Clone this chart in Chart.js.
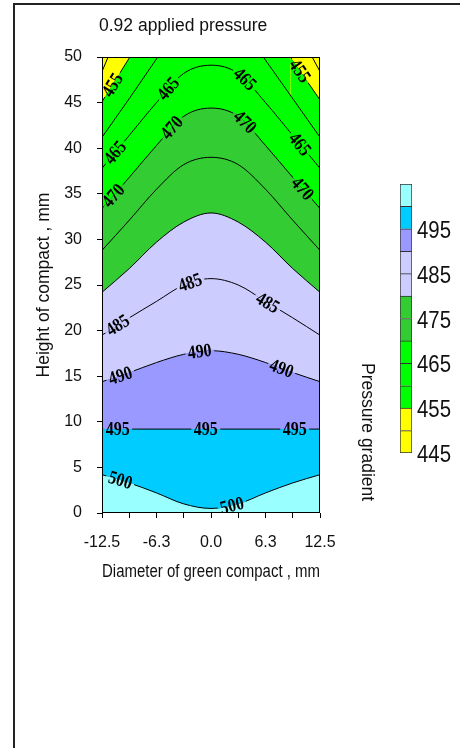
<!DOCTYPE html>
<html>
<head>
<meta charset="utf-8">
<script src="https://cdn.jsdelivr.net/npm/chart.js@4.4.1/dist/chart.umd.min.js"></script>
<style>
    body { margin: 0; width: 460px; height: 748px; overflow: hidden; position: relative; background: #fff;
           font-family: "Liberation Sans", Arial, sans-serif; color: #111; }
    #frame { position: absolute; left: 13px; top: 3px; width: 470px; height: 760px;
             border-left: 2px solid #222; border-top: 2px solid #222; }
    #main { position: absolute; left: 0; top: 0; }
    #bar { position: absolute; left: 390px; top: 170px; }
    #title { position: absolute; left: 99px; top: 15px; font-size: 17.5px; white-space: nowrap; }
    #barTitle { position: absolute; left: 357px; top: 363px; font-size: 17.5px; writing-mode: vertical-rl; white-space: nowrap; }
</style>
</head>
<body>
<div id="frame"></div>
<canvas id="main" width="460" height="748"></canvas>
<canvas id="bar" width="70" height="310"></canvas>
<div id="title">0.92 applied pressure</div>
<div id="barTitle">Pressure gradient</div>
<script>
// colour bands between successive pressure levels
const levels = [445, 450, 455, 460, 465, 470, 475, 480, 485, 490, 495, 500, 505];
const bandColors = ['#FFFF00', '#FFFF00', '#00FF00', '#00FF00', '#00FF00', '#33CC33',
                    '#33CC33', '#CCCCFF', '#CCCCFF', '#9999FF', '#00CCFF', '#99FFFF'];
const barTicks = [445, 455, 465, 475, 485, 495];

const xTicks = [-12.5, -9.375, -6.25, -3.125, 0, 3.125, 6.25, 9.375, 12.5];
const xTickLabels = ['-12.5', '', '-6.3', '', '0.0', '', '6.3', '', '12.5'];
const yTicks = [0, 5, 10, 15, 20, 25, 30, 35, 40, 45, 50];

// contour lines: [diameter mm, height mm]
const line450 = [[-12.5, 48.4], [-11.8, 50], [11.6, 50], [12.5, 48.4]];
const line455 = [[-12.5, 45.1], [-9.3, 50], [9.1, 50], [12.5, 45.3]];
const line460 = [[-12.5, 41.2], [-9.4, 45.4], [-6.1, 50], [6.0, 50], [9.4, 45.4], [12.5, 41.2]];
const line465 = [[-12.5, 37.8], [-9.375, 41.4], [-6.25, 45.0], [-3.125, 48.2], [0, 49.1], [3.125, 48.2], [6.25, 45.0], [9.375, 41.4], [12.5, 37.8]];
const line470 = [[-12.5, 33.4], [-9.375, 36.8], [-6.25, 40.3], [-3.125, 43.5], [0, 44.4], [3.125, 43.5], [6.25, 40.3], [9.375, 36.8], [12.5, 33.4]];
const line475 = [[-12.5, 28.8], [-9.375, 32.1], [-6.25, 35.5], [-3.125, 38.2], [0, 39.0], [3.125, 38.2], [6.25, 35.5], [9.375, 32.1], [12.5, 28.8]];
const line480 = [[-12.5, 24.2], [-9.375, 26.8], [-6.25, 29.7], [-3.125, 31.9], [0, 32.9], [3.125, 31.9], [6.25, 29.7], [9.375, 26.8], [12.5, 24.2]];
const line485 = [[-12.5, 19.5], [-9.375, 21.4], [-6.25, 23.2], [-3.125, 25.0], [0, 25.7], [3.125, 25.0], [6.25, 23.2], [9.375, 21.4], [12.5, 19.5]];
const line490 = [[-12.5, 14.4], [-9.375, 15.4], [-6.25, 16.5], [-3.125, 17.4], [0, 17.8], [3.125, 17.4], [6.25, 16.5], [9.375, 15.4], [12.5, 14.4]];
const line495 = [[-12.5, 9.2], [0, 9.2], [12.5, 9.2]];
const line500 = [[-12.5, 4.2], [-9.375, 3.3], [-6.25, 2.2], [-3.125, 1.0], [0, 0.5], [3.125, 1.0], [6.25, 2.2], [9.375, 3.3], [12.5, 4.2]];

// where each line carries its value label (diameter mm)
const labels455 = [-11.3, 10.2];
const labels465 = [-11.0, -4.9, 3.9, 10.2];
const labels470 = [-11.2, -4.5, 3.9, 10.5];
const labels485 = [-10.7, -2.4, 6.5];
const labels490 = [-10.4, -1.3, 8.1];
const labels495 = [-10.7, -0.6, 9.6];
const labels500 = [-10.4, 2.4];

const contours = [
    { level: 450, pts: line450, tags: [] },
    { level: 455, pts: line455, tags: labels455 },
    { level: 460, pts: line460, tags: [] },
    { level: 465, pts: line465, tags: labels465 },
    { level: 470, pts: line470, tags: labels470 },
    { level: 475, pts: line475, tags: [] },
    { level: 480, pts: line480, tags: [] },
    { level: 485, pts: line485, tags: labels485 },
    { level: 490, pts: line490, tags: labels490 },
    { level: 495, pts: line495, tags: labels495 },
    { level: 500, pts: line500, tags: labels500 }
];

const Y_TOP = 50;

function bandColor(v) {
    for (let i = 0; i < bandColors.length; i++) {
        if (v >= levels[i] && v < levels[i + 1]) return bandColors[i];
    }
    return bandColors[bandColors.length - 1];
}

// position and direction of a drawn line at a given pixel x
function pointOnCurve(points, px) {
    const bez = (t, a, b, c, d) => { const s = 1 - t; return s * s * s * a + 3 * s * s * t * b + 3 * s * t * t * c + t * t * t * d; };
    const der = (t, a, b, c, d) => { const s = 1 - t; return 3 * s * s * (b - a) + 6 * s * t * (c - b) + 3 * t * t * (d - c); };
    for (let i = 0; i < points.length - 1; i++) {
        const p0 = points[i], p1 = points[i + 1];
        if (px < p0.x || px > p1.x) continue;
        const ax = p0.x, bx = p0.cp2x ?? p0.x, cx = p1.cp1x ?? p1.x, dx = p1.x;
        const ay = p0.y, by = p0.cp2y ?? p0.y, cy = p1.cp1y ?? p1.y, dy = p1.y;
        let lo = 0, hi = 1;
        for (let k = 0; k < 40; k++) {
            const m = (lo + hi) / 2;
            if (bez(m, ax, bx, cx, dx) < px) lo = m; else hi = m;
        }
        const t = (lo + hi) / 2;
        return {
            x: bez(t, ax, bx, cx, dx),
            y: bez(t, ay, by, cy, dy),
            angle: Math.atan2(der(t, ay, by, cy, dy), der(t, ax, bx, cx, dx))
        };
    }
    return null;
}

const plotBackground = {
    id: 'plotBackground',
    beforeDatasetsDraw(chart) {
        const { ctx, chartArea: a } = chart;
        ctx.save();
        ctx.fillStyle = bandColors[0];
        ctx.fillRect(a.left, a.top, a.width, a.height);
        ctx.restore();
    }
};

const contourLabels = {
    id: 'contourLabels',
    afterDatasetsDraw(chart) {
        const { ctx, chartArea: a } = chart;
        const xScale = chart.scales.x;
        ctx.save();
        ctx.beginPath();
        ctx.rect(a.left, a.top, a.width, a.height);
        ctx.clip();
        contours.forEach((c, i) => {
            const points = chart.getDatasetMeta(i).data;
            const text = String(c.level);
            c.tags.forEach(u => {
                const p = pointOnCurve(points, xScale.getPixelForValue(u));
                if (!p) return;
                ctx.save();
                ctx.translate(p.x, p.y);
                ctx.rotate(p.angle);
                ctx.scale(0.84, 1);
                ctx.font = 'bold 19px "Liberation Serif", "Times New Roman", serif';
                const w = ctx.measureText(text).width + 6;
                // break the line under the label
                ctx.fillStyle = bandColor(c.level - 2.5);
                ctx.fillRect(-w / 2, -3.5, w, 3.5);
                ctx.fillStyle = bandColor(c.level + 2.5);
                ctx.fillRect(-w / 2, 0, w, 3.5);
                ctx.fillStyle = '#000';
                ctx.textAlign = 'center';
                ctx.textBaseline = 'middle';
                ctx.fillText(text, 0, 1);
                ctx.restore();
            });
        });
        ctx.restore();

        // plot frame
        ctx.save();
        ctx.strokeStyle = '#000';
        ctx.lineWidth = 1;
        ctx.strokeRect(a.left + 0.5, a.top + 0.5, a.width - 1, a.height - 1);
        ctx.restore();
    }
};

// narrow tick numbers beside the colour bar
const barLabels = {
    id: 'barLabels',
    afterDraw(chart) {
        const { ctx, chartArea: a } = chart;
        const yScale = chart.scales.y;
        ctx.save();
        ctx.font = '24px "Liberation Sans", Arial, sans-serif';
        ctx.fillStyle = '#111';
        ctx.textAlign = 'left';
        ctx.textBaseline = 'middle';
        barTicks.forEach(v => {
            ctx.save();
            ctx.translate(a.right + 5, yScale.getPixelForValue(v) + 2.5);
            ctx.scale(0.85, 1);
            ctx.fillText(String(v), 0, 0);
            ctx.restore();
        });
        ctx.restore();
    }
};

const tickFont = { family: '"Liberation Sans", Arial, sans-serif', size: 16 };
const titleFont = { family: '"Liberation Sans", Arial, sans-serif', size: 17.5 };

new Chart(document.getElementById('main'), {
    type: 'line',
    data: {
        datasets: contours.map(c => {
            const touchesTop = c.pts.some(p => p[1] >= Y_TOP);
            return {
                label: String(c.level),
                data: c.pts.map(([x, y]) => ({ x, y })),
                order: 1000 - c.level,
                fill: 'start',
                backgroundColor: bandColor(c.level + 2.5),
                borderColor: '#000',
                borderWidth: 1,
                pointRadius: 0,
                tension: 0,
                cubicInterpolationMode: touchesTop ? 'default' : 'monotone',
                segment: {
                    borderColor: s => (s.p0.parsed.y >= Y_TOP && s.p1.parsed.y >= Y_TOP) ? 'rgba(0,0,0,0)' : '#000'
                }
            };
        })
    },
    options: {
        responsive: false,
        animation: false,
        devicePixelRatio: 1,
        layout: { padding: { top: 57, right: 140, bottom: 0, left: 0 } },
        plugins: { legend: { display: false }, tooltip: { enabled: false } },
        scales: {
            x: {
                type: 'linear',
                min: -12.5,
                max: 12.5,
                afterBuildTicks: s => { s.ticks = xTicks.map(v => ({ value: v })); },
                afterFit: s => { s.height = 235; },
                grid: { drawOnChartArea: false, drawTicks: true, tickLength: 5, color: '#000' },
                border: { display: false },
                ticks: {
                    autoSkip: false,
                    maxRotation: 0,
                    padding: 15,
                    color: '#111',
                    font: tickFont,
                    callback: (v, i) => xTickLabels[i]
                },
                title: {
                    display: true,
                    text: 'Diameter of green compact , mm',
                    color: '#111',
                    font: titleFont,
                    padding: { top: 0, bottom: 165 }
                }
            },
            y: {
                type: 'linear',
                min: 0,
                max: 50,
                afterBuildTicks: s => { s.ticks = yTicks.map(v => ({ value: v })); },
                afterFit: s => { s.width = 102; },
                grid: { drawOnChartArea: false, drawTicks: true, tickLength: 5, color: '#000' },
                border: { display: false },
                ticks: { padding: 15, color: '#111', font: tickFont },
                title: {
                    display: true,
                    text: 'Height of compact , mm',
                    color: '#111',
                    font: titleFont,
                    padding: { top: 34, bottom: 0 }
                }
            }
        }
    },
    plugins: [plotBackground, contourLabels]
});

// colour bar
new Chart(document.getElementById('bar'), {
    type: 'bar',
    data: {
        labels: [''],
        datasets: bandColors.map((color, i) => ({
            data: [[levels[i], levels[i + 1]]],
            backgroundColor: color,
            borderColor: '#333',
            borderWidth: { top: 1, left: 1, right: 1, bottom: i === 0 ? 1 : 0 },
            borderSkipped: false,
            barPercentage: 1,
            categoryPercentage: 1
        }))
    },
    options: {
        responsive: false,
        animation: false,
        devicePixelRatio: 1,
        layout: { padding: { left: 10, top: 14, bottom: 27, right: 0 } },
        plugins: { legend: { display: false }, tooltip: { enabled: false } },
        scales: {
            x: { display: false, stacked: true },
            y: {
                position: 'right',
                min: 445,
                max: 505,
                afterBuildTicks: s => { s.ticks = barTicks.map(v => ({ value: v })); },
                afterFit: s => { s.width = 48; },
                grid: { display: false, drawTicks: false },
                border: { display: false },
                ticks: { display: false }
            }
        }
    },
    plugins: [barLabels]
});
</script>
</body>
</html>
